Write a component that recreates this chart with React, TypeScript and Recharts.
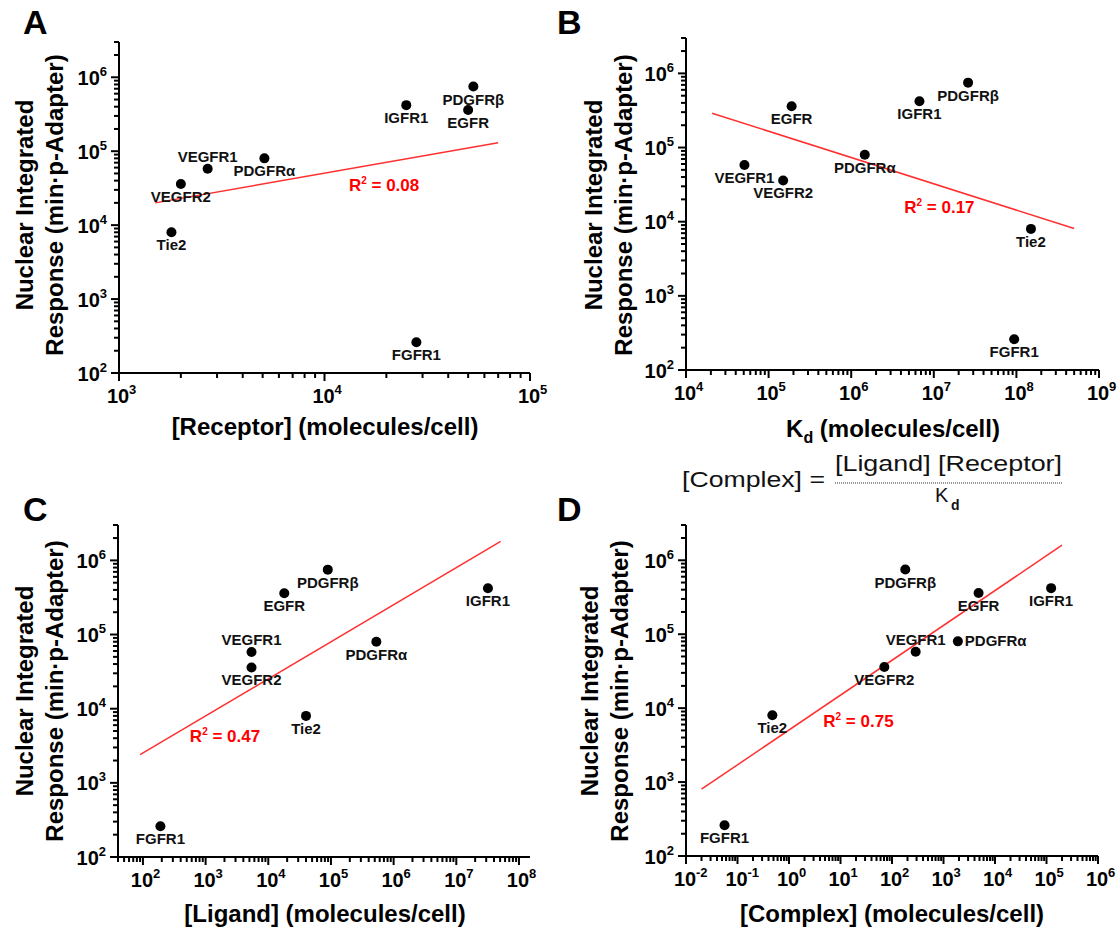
import React from 'react';
import { ScatterChart, Scatter, XAxis, YAxis, ReferenceLine, ReferenceDot } from 'recharts';

const FONT = "'Liberation Sans', Arial, Helvetica, sans-serif";

// same receptor order in every panel
const receptors = ['PDGFRβ', 'EGFR', 'IGFR1', 'PDGFRα', 'VEGFR1', 'VEGFR2', 'Tie2', 'FGFR1'];
const nuclearResponse = [7.5e5, 3.6e5, 4.2e5, 8.0e4, 5.8e4, 3.6e4, 8.0e3, 2.6e2];
const receptorCount = [5.3e4, 5.0e4, 2.5e4, 5.1e3, 2.7e3, 2.0e3, 1.8e3, 2.8e4];
const kdValues = [2.6e7, 1.9e5, 6.7e6, 1.46e6, 5.1e4, 1.5e5, 1.5e8, 9.4e7];
const ligandCount = [8.9e4, 1.8e4, 3.2e7, 5.3e5, 5.4e3, 5.4e3, 4.0e4, 1.9e2];
const complexCount = [181, 4.8e3, 1.23e5, 1.9e3, 288, 71, 0.475, 0.056];

// power-law fit lines, end points
const fitReceptor = [[1.5e3, 2.0e4], [7.0e4, 1.3e5]];
const fitKd = [[2.07e4, 2.9e5], [5.0e8, 8.1e3]];
const fitLigand = [[90, 2.4e3], [5.1e7, 1.8e6]];
const fitComplex = [[0.02, 800], [2.0e5, 1.6e6]];

const r2Values = ['0.08', '0.17', '0.47', '0.75'];

const yDomain: [number, number] = [1e2, 3e6];
const receptorDomain: [number, number] = [1e3, 1e5];
const kdDomain: [number, number] = [1e4, 1e9];
const ligandDomain: [number, number] = [40, 1.5e8];
const complexDomain: [number, number] = [1e-2, 1e6];

// where each name label sits relative to its dot
const sidesA = ['below', 'below', 'below', 'below', 'above', 'below', 'below', 'below'];
const sidesB = ['below', 'below', 'below', 'below', 'below', 'below', 'below', 'below'];
const sidesC = ['below', 'below', 'below', 'below', 'above', 'below', 'below', 'below'];
const sidesD = ['below', 'below', 'below', 'right', 'above', 'below', 'below', 'below'];

const isDecade = (v: number) => Math.abs(Math.log10(v) - Math.round(Math.log10(v))) < 1e-6;

// 1..9 x 10^n ticks inside a domain
function logTicks([lo, hi]: [number, number]) {
  const out: number[] = [];
  for (let e = Math.floor(Math.log10(lo)); e <= Math.ceil(Math.log10(hi)); e++) {
    for (let m = 1; m <= 9; m++) {
      const v = Number((m * Math.pow(10, e)).toPrecision(6));
      if (v >= lo * 0.9999 && v <= hi * 1.0001) out.push(v);
    }
  }
  return out;
}

function BottomTick(p: any) {
  const { x, y, payload } = p;
  const v = payload.value;
  const major = isDecade(v);
  const e = Math.round(Math.log10(v));
  return (
    <g>
      <line x1={x} x2={x} y1={y} y2={y + (major ? 8 : 5)} stroke="#000" strokeWidth={2} />
      {major && (
        <g fontFamily={FONT} fill="#000" fontWeight="bold">
          <text x={x - 1} y={y + 30} textAnchor="middle" fontSize={20}>10</text>
          <text x={x + 10} y={y + 21} fontSize={13}>{e}</text>
        </g>
      )}
    </g>
  );
}

function TopTick(p: any) {
  const { x, y, payload } = p;
  const major = isDecade(payload.value);
  return <line x1={x} x2={x} y1={y} y2={y + (major ? 7 : 4)} stroke="#000" strokeWidth={2} />;
}

function LeftTick(p: any) {
  const { x, y, payload } = p;
  const v = payload.value;
  const major = isDecade(v);
  const e = Math.round(Math.log10(v));
  return (
    <g>
      <line x1={x} x2={x - (major ? 8 : 5)} y1={y} y2={y} stroke="#000" strokeWidth={2} />
      {major && (
        <text x={x - 12} y={y + 7.5} textAnchor="end" fontFamily={FONT} fontWeight="bold" fill="#000">
          <tspan fontSize={20}>10</tspan>
          <tspan fontSize={13} dy={-9}>{e}</tspan>
        </text>
      )}
    </g>
  );
}

function RightTick(p: any) {
  const { x, y, payload } = p;
  const major = isDecade(payload.value);
  return <line x1={x} x2={x - (major ? 7 : 4)} y1={y} y2={y} stroke="#000" strokeWidth={2} />;
}

function makeDot(sides: string[]) {
  return (p: any) => {
    const { cx, cy, payload } = p;
    const side = sides[receptors.indexOf(payload.name)];
    let tx = cx;
    let ty = cy + 18;
    let anchor = 'middle';
    if (side === 'above') ty = cy - 7;
    if (side === 'right') {
      tx = cx + 7;
      ty = cy + 5;
      anchor = 'start';
    }
    return (
      <g>
        <circle cx={cx} cy={cy} r={5} fill="#000" />
        <text x={tx} y={ty} textAnchor={anchor} fontSize={15} fontWeight="bold" fontFamily={FONT} fill="#111">
          {payload.name}
        </text>
      </g>
    );
  };
}

type Box = { left: number; top: number; right: number; bottom: number };
type Quad = { left: number; top: number; width: number; height: number };

function Panel(props: {
  quad: Quad;
  box: Box;
  xs: number[];
  xDomain: [number, number];
  fit: number[][];
  r2: string;
  r2At: [number, number];
  sides: string[];
}) {
  const { quad, box, xs, xDomain, fit, r2, r2At, sides } = props;
  const data = receptors.map((name, i) => ({ name, x: xs[i], y: nuclearResponse[i] }));
  const margin = {
    top: box.top - quad.top,
    right: quad.left + quad.width - box.right,
    bottom: quad.top + quad.height - box.bottom - 40,
    left: box.left - quad.left - 60,
  };
  const axisLine = { stroke: '#000', strokeWidth: 2 };
  const xt = logTicks(xDomain);
  const yt = logTicks(yDomain);
  return (
    <div style={{ position: 'absolute', left: quad.left, top: quad.top }}>
      <ScatterChart width={quad.width} height={quad.height} margin={margin}>
        <XAxis xAxisId="b" type="number" dataKey="x" scale="log" domain={xDomain} allowDataOverflow
          ticks={xt} interval={0} tick={BottomTick} tickSize={0} tickMargin={0} tickLine={false}
          height={40} axisLine={axisLine} />
        <XAxis xAxisId="t" orientation="top" type="number" scale="log" domain={xDomain} allowDataOverflow
          ticks={xt} interval={0} tick={TopTick} tickSize={0} tickMargin={0} tickLine={false}
          height={0} axisLine={axisLine} />
        <YAxis yAxisId="l" type="number" dataKey="y" scale="log" domain={yDomain} allowDataOverflow
          ticks={yt} interval={0} tick={LeftTick} tickSize={0} tickMargin={0} tickLine={false}
          width={60} axisLine={axisLine} />
        <YAxis yAxisId="r" orientation="right" type="number" scale="log" domain={yDomain} allowDataOverflow
          ticks={yt} interval={0} tick={RightTick} tickSize={0} tickMargin={0} tickLine={false}
          width={0} axisLine={axisLine} />
        <ReferenceLine xAxisId="b" yAxisId="l" ifOverflow="visible"
          segment={[{ x: fit[0][0], y: fit[0][1] }, { x: fit[1][0], y: fit[1][1] }]}
          stroke="#FF3030" strokeWidth={1.5} />
        <Scatter xAxisId="b" yAxisId="l" data={data} shape={makeDot(sides)} isAnimationActive={false} />
        <ReferenceDot xAxisId="b" yAxisId="l" x={r2At[0]} y={r2At[1]} r={0} ifOverflow="visible"
          shape={(p: any) => (
            <text x={p.cx} y={p.cy + 6} textAnchor="middle" fill="#FF0000" fontWeight="bold" fontSize={17} fontFamily={FONT}>
              <tspan>R</tspan>
              <tspan fontSize={10} dy={-7}>2</tspan>
              <tspan dy={7}>{' = ' + r2}</tspan>
            </text>
          )} />
      </ScatterChart>
    </div>
  );
}

const yTitleStyle: React.CSSProperties = {
  position: 'absolute',
  transform: 'translate(-50%,-50%) rotate(-90deg)',
  whiteSpace: 'nowrap',
  textAlign: 'center',
  fontFamily: FONT,
  fontWeight: 'bold',
  fontSize: 24,
  lineHeight: '30px',
  color: '#000',
};

const xTitleStyle: React.CSSProperties = {
  position: 'absolute',
  transform: 'translate(-50%,-50%)',
  whiteSpace: 'nowrap',
  fontFamily: FONT,
  fontWeight: 'bold',
  fontSize: 24,
  lineHeight: 1,
  color: '#000',
};

const letterStyle: React.CSSProperties = {
  position: 'absolute',
  fontFamily: FONT,
  fontWeight: 'bold',
  fontSize: 34,
  lineHeight: 1,
  color: '#000',
};

function YTitle({ x, y }: { x: number; y: number }) {
  return (
    <div style={{ ...yTitleStyle, left: x, top: y }}>
      Nuclear Integrated
      <br />
      Response (min·p-Adapter)
    </div>
  );
}

export default function App() {
  return (
    <div style={{ position: 'absolute', left: 0, top: 0, width: 1117, height: 930, background: '#fff', overflow: 'hidden' }}>
      <Panel quad={{ left: 0, top: 0, width: 558, height: 440 }} box={{ left: 119, top: 42, right: 530, bottom: 373 }}
        xs={receptorCount} xDomain={receptorDomain} fit={fitReceptor} r2={r2Values[0]} r2At={[1.95e4, 3.5e4]} sides={sidesA} />
      <Panel quad={{ left: 558, top: 0, width: 559, height: 440 }} box={{ left: 686, top: 38, right: 1099, bottom: 370 }}
        xs={kdValues} xDomain={kdDomain} fit={fitKd} r2={r2Values[1]} r2At={[1.17e7, 1.58e4]} sides={sidesB} />
      <Panel quad={{ left: 0, top: 440, width: 558, height: 490 }} box={{ left: 118, top: 525, right: 530, bottom: 857 }}
        xs={ligandCount} xDomain={ligandDomain} fit={fitLigand} r2={r2Values[2]} r2At={[2.04e3, 4.25e3]} sides={sidesC} />
      <Panel quad={{ left: 558, top: 440, width: 559, height: 490 }} box={{ left: 686, top: 525, right: 1098, bottom: 856 }}
        xs={complexCount} xDomain={complexDomain} fit={fitComplex} r2={r2Values[3]} r2At={[22.3, 6.8e3]} sides={sidesD} />

      <YTitle x={40} y={205} />
      <YTitle x={609} y={205} />
      <YTitle x={40} y={691} />
      <YTitle x={605} y={691} />

      <div style={{ ...xTitleStyle, left: 325, top: 427 }}>[Receptor] (molecules/cell)</div>
      <div style={{ ...xTitleStyle, left: 893, top: 429 }}>
        K<span style={{ fontSize: 16, position: 'relative', top: 6 }}>d</span> (molecules/cell)
      </div>
      <div style={{ ...xTitleStyle, left: 325, top: 914 }}>[Ligand] (molecules/cell)</div>
      <div style={{ ...xTitleStyle, left: 892, top: 914 }}>[Complex] (molecules/cell)</div>

      <div style={{ ...letterStyle, left: 23, top: 5 }}>A</div>
      <div style={{ ...letterStyle, left: 557, top: 5 }}>B</div>
      <div style={{ ...letterStyle, left: 23, top: 492 }}>C</div>
      <div style={{ ...letterStyle, left: 557, top: 492 }}>D</div>

      <svg width={1117} height={930} style={{ position: 'absolute', left: 0, top: 0, pointerEvents: 'none' }}>
        <g fontFamily={FONT} fill="#111">
          <text x={682} y={487} fontSize={22} textLength={143} lengthAdjust="spacingAndGlyphs">[Complex] =</text>
          <text x={835} y={471} fontSize={22} textLength={227} lengthAdjust="spacingAndGlyphs">[Ligand] [Receptor]</text>
          <line x1={835} x2={1062} y1={483} y2={483} stroke="#777" strokeWidth={1.5} strokeDasharray="1 1" />
          <text x={935} y={502} fontSize={20}>K</text>
          <text x={951} y={510} fontSize={14} fontWeight="bold">d</text>
        </g>
      </svg>
    </div>
  );
}
